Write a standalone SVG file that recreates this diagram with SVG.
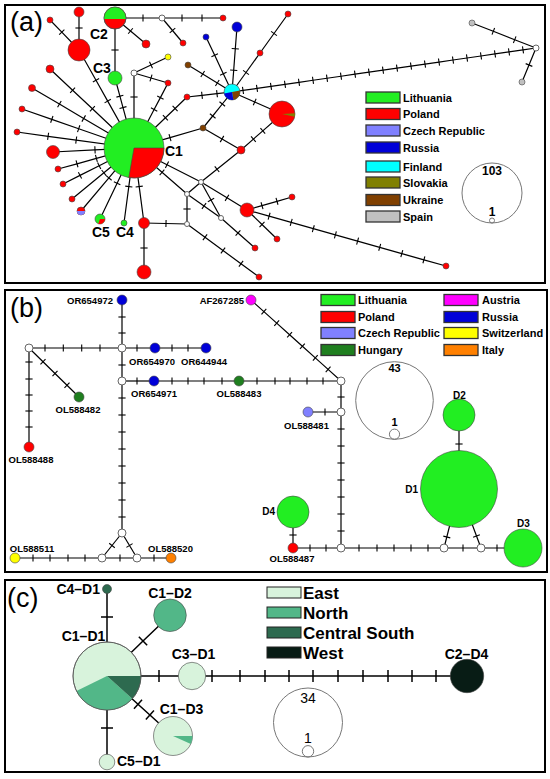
<svg xmlns="http://www.w3.org/2000/svg" width="550" height="779" viewBox="0 0 550 779">
<defs>
<marker id="ta" viewBox="-2 -5 4 10" refX="0" refY="0" markerWidth="4" markerHeight="10" orient="auto" markerUnits="userSpaceOnUse" overflow="visible"><path d="M0,-3.6V3.6" stroke="#000" stroke-width="1.1" fill="none"/></marker>
<marker id="tc" viewBox="-2 -7 4 14" refX="0" refY="0" markerWidth="4" markerHeight="14" orient="auto" markerUnits="userSpaceOnUse" overflow="visible"><path d="M0,-6V6" stroke="#000" stroke-width="1.5" fill="none"/></marker>
</defs>
<style>
text{font-family:"Liberation Sans",Arial,sans-serif;fill:#000}
.frame{fill:none;stroke:#000;stroke-width:2}
.ea,.eb{fill:none;stroke:#000;stroke-width:1.2;marker-mid:url(#ta)}
.ec{fill:none;stroke:#000;stroke-width:1.5;marker-mid:url(#tc)}
.n{stroke:#444;stroke-width:0.6}
.w{fill:#fff;stroke:#666;stroke-width:1}
.lt{fill:#22ee22}.pl{fill:#ff0000}.cz{fill:#8080ff}.ru{fill:#0000d8}.fi{fill:#00ffff}.sk{fill:#808000}.uk{fill:#804000}.es{fill:#c0c0c0}
.hu{fill:#1f7f1f}.at{fill:#ff00ff}.ch{fill:#ffff00}.it{fill:#ff8000}
.ea1{fill:#d8f3dc}.no{fill:#52b788}.cs{fill:#2d6a4f}.we{fill:#081c15}
.box{stroke:#333;stroke-width:1.3}
.lg{font-weight:bold;font-size:11px}
.nl{font-weight:bold;font-size:14px}
.bl{font-weight:bold;font-size:9.5px}
.dl{font-weight:bold;font-size:10px}
.cl{font-weight:bold;font-size:14px}
.cg{font-weight:bold;font-size:17px}
.pn{font-size:27px}
.sc{fill:none;stroke:#777;stroke-width:1}
</style>
<rect width="550" height="779" fill="#fff"/>
<rect class="frame" x="5" y="5" width="540" height="278"/>
<rect class="frame" x="5" y="290" width="542" height="282"/>
<rect class="frame" x="5" y="580" width="540" height="192"/>
<text class="pn" x="10" y="31">(a)</text>
<text class="pn" x="10" y="317">(b)</text>
<text class="pn" x="7" y="607">(c)</text>

<g id="connectors-a">
<path class="ea" d="M79,12 L79,28 L79,50"/>
<path class="ea" d="M50,20 L61.8,32.2 L79,50"/>
<path class="ea" d="M79,50 L96,80.3 L107.7,101.1 L134,148"/>
<path class="ea" d="M115,18 L115,50 L115,78"/>
<path class="ea" d="M115,78 L119.9,96.2 L123,107.6 L134,148"/>
<path class="ea" d="M134,73 L134,97 L134,148"/>
<path class="ea" d="M134,73 L151,65 L168,57"/>
<path class="ea" d="M134,73 L151,78 L168,83"/>
<path class="ea" d="M168,83 L160.4,97.6 L154.1,109.5 L134,148"/>
<path class="ea" d="M115,18 L143,18 L162,18"/>
<path class="ea" d="M162,18 L182,18 L202,18 L223,18"/>
<path class="ea" d="M162,18 L172.5,30.5 L183,43"/>
<path class="ea" d="M115,18 L130.5,31 L146,44"/>
<path class="ea" d="M50,69 L72.6,90.3 L92.4,108.8 L134,148"/>
<path class="ea" d="M32,88 L59.4,104.1 L83.7,118.5 L134,148"/>
<path class="ea" d="M22,109 L51.8,119.4 L78.7,128.7 L134,148"/>
<path class="ea" d="M17,132 L48.1,136.3 L76.2,140.1 L134,148"/>
<path class="ea" d="M53,152 L95,149.9 L134,148"/>
<path class="ea" d="M58,169 L77,163.8 L96.4,158.4 L134,148"/>
<path class="ea" d="M63,184 L80,175.4 L99.2,165.7 L134,148"/>
<path class="ea" d="M72,199 L103.9,172.8 L134,148"/>
<path class="ea" d="M81,211 L108.9,177.9 L134,148"/>
<path class="ea" d="M100,219 L117.1,183.2 L134,148"/>
<path class="ea" d="M124,223 L128.8,186.6 L134,148"/>
<path class="ea" d="M144,223 L139.2,186.6 L134,148"/>
<path class="ea" d="M144,223 L144,248 L144,272"/>
<path class="ea" d="M187,224 L166,223.5 L144,223"/>
<path class="ea" d="M134,148 L167,164.7 L201,182"/>
<path class="ea" d="M134,148 L162,172.3 L187,194"/>
<path class="ea" d="M187,194 L201,182"/>
<path class="ea" d="M187,194 L187,209 L187,224"/>
<path class="ea" d="M201,182 L217,169.2 L241,150"/>
<path class="ea" d="M201,182 L227,197.8 L247,210"/>
<path class="ea" d="M201,182 L211,200 L221,218"/>
<path class="ea" d="M187,194 L204,206 L221,218"/>
<path class="ea" d="M221,218 L238,233 L255,248"/>
<path class="ea" d="M187,224 L205,237.3 L223,250.5 L241,263.8 L259,277"/>
<path class="ea" d="M134,148 L170,137.6 L203,128"/>
<path class="ea" d="M203,128 L212.7,116 L222.3,104 L232,92"/>
<path class="ea" d="M203,128 L222,139 L241,150"/>
<path class="ea" d="M241,150 L253.4,139.1 L262.8,130.9 L282,114"/>
<path class="ea" d="M232,92 L254.7,102 L282,114"/>
<path class="ea" d="M232,92 L217,93.7 L202,95.3 L187,97"/>
<path class="ea" d="M187,97 L175.1,108.5 L165.4,117.8 L134,148"/>
<path class="ea" d="M232,92 L217.3,83 L202.7,74 L188,65"/>
<path class="ea" d="M232,92 L223.3,73.7 L214.7,55.3 L206,37"/>
<path class="ea" d="M232,92 L233.7,70.3 L235.3,48.7 L237,27"/>
<path class="ea" d="M232,92 L246,72.5 L260,53"/>
<path class="ea" d="M260,53 L274,33.5 L288,14"/>
<path class="ea" d="M232,92 L243,90.41 L257,88.38 L271,86.36 L285,84.33 L299,82.3 L313,80.28 L327,78.25 L341,76.23 L355,74.2 L369,72.18 L383,70.15 L397,68.12 L411,66.1 L425,64.07 L439,62.05 L453,60.02 L467,58 L481,55.97 L495,53.94 L509,51.92 L523,49.89 L536,48"/>
<path class="ea" d="M536,48 L514.7,39.7 L493.3,31.3 L472,23"/>
<path class="ea" d="M536,48 L529,65 L522,82"/>
<path class="ea" d="M247,210 L269.1,216.2 L291.2,222.4 L313.3,228.7 L335.4,234.9 L357.6,241.1 L379.7,247.3 L401.8,253.6 L423.9,259.8 L446,266"/>
<path class="ea" d="M247,210 L262,205.7 L277,201.3 L292,197"/>
<path class="ea" d="M247,210 L262,224.5 L277,239"/>
</g>

<g id="nodes-a">
<g id="a-C1"><circle class="n lt" cx="134" cy="148" r="30"/><path class="n pl" d="M134,148 L164,148 A30,30 0 0,1 128.8,177.5 Z"/><text class="nl" x="165" y="156">C1</text></g>
<g id="a-C2"><circle class="n pl" cx="115" cy="18" r="11"/><path class="lt" d="M104.05,19 A11,11 0 1,1 125.95,19 Z"/><circle cx="115" cy="18" r="11" fill="none" stroke="#444" stroke-width="0.6"/><text class="nl" x="90" y="38.5">C2</text></g>
<g id="a-C3"><circle class="n lt" cx="115" cy="78" r="7"/><text class="nl" x="93" y="73">C3</text></g>
<g id="a-C4"><circle class="n lt" cx="124" cy="223" r="3"/><text class="nl" x="116" y="237">C4</text></g>
<g id="a-C5"><circle class="n lt" cx="100" cy="219" r="5"/><path class="pl" d="M100,219 L105,219 A5,5 0 0,1 98.29,223.7 Z"/><text class="nl" x="92" y="237">C5</text></g>
<g id="a-r1"><circle class="n pl" cx="79" cy="12" r="5"/></g>
<g id="a-r2"><circle class="n pl" cx="50" cy="20" r="3"/></g>
<g id="a-r3"><circle class="n pl" cx="79" cy="50" r="11"/></g>
<g id="a-r4"><circle class="n pl" cx="146" cy="44" r="4"/></g>
<g id="a-w1"><circle class="w" cx="162" cy="18" r="3"/></g>
<g id="a-r5"><circle class="n pl" cx="223" cy="18" r="3"/></g>
<g id="a-r6"><circle class="n pl" cx="183" cy="43" r="3"/></g>
<g id="a-w2"><circle class="w" cx="134" cy="73" r="3"/></g>
<g id="a-y1"><circle class="n" fill="#ffff00" cx="168" cy="57" r="3"/></g>
<g id="a-r7"><circle class="n pl" cx="168" cy="83" r="3"/></g>
<g id="a-r8"><circle class="n pl" cx="50" cy="69" r="4"/></g>
<g id="a-r9"><circle class="n pl" cx="32" cy="88" r="3.5"/></g>
<g id="a-r10"><circle class="n pl" cx="22" cy="109" r="3"/></g>
<g id="a-r11"><circle class="n pl" cx="17" cy="132" r="3"/></g>
<g id="a-r12"><circle class="n pl" cx="53" cy="152" r="6.5"/></g>
<g id="a-r13"><circle class="n pl" cx="58" cy="169" r="3"/></g>
<g id="a-r14"><circle class="n pl" cx="63" cy="184" r="3"/></g>
<g id="a-r15"><circle class="n pl" cx="72" cy="199" r="3"/></g>
<g id="a-cz"><circle class="n pl" cx="81" cy="211" r="4"/><path class="cz" d="M77,211 A4,4 0 0,0 85,211 Z"/></g>
<g id="a-r16"><circle class="n pl" cx="144" cy="223" r="5.5"/></g>
<g id="a-r17"><circle class="n pl" cx="144" cy="272" r="7"/></g>
<g id="a-w3"><circle class="w" cx="201" cy="182" r="2.5"/></g>
<g id="a-w4"><circle class="w" cx="187" cy="194" r="2.5"/></g>
<g id="a-w5"><circle class="w" cx="187" cy="224" r="2.5"/></g>
<g id="a-w6"><circle class="w" cx="221" cy="218" r="2.5"/></g>
<g id="a-r18"><circle class="n pl" cx="241" cy="150" r="4"/></g>
<g id="a-b1"><circle class="n uk" cx="203" cy="128" r="3"/></g>
<g id="a-mix"><circle class="n fi" cx="232" cy="92" r="8"/><path class="uk" d="M232,92 L239.88,90.61 A8,8 0 0,1 233.39,99.88 Z"/><path class="ru" d="M232,92 L233.39,99.88 A8,8 0 0,1 224.12,93.39 Z"/></g>
<g id="a-r19"><circle class="n pl" cx="187" cy="97" r="3"/></g>
<g id="a-b2"><circle class="n uk" cx="188" cy="65" r="3"/></g>
<g id="a-u1"><circle class="n ru" cx="206" cy="37" r="3"/></g>
<g id="a-u2"><circle class="n ru" cx="237" cy="27" r="5"/></g>
<g id="a-r20"><circle class="n pl" cx="260" cy="53" r="3"/></g>
<g id="a-r21"><circle class="n pl" cx="288" cy="14" r="3"/></g>
<g id="a-r22"><circle class="n pl" cx="282" cy="114" r="13"/><path class="sk" d="M282,114 L294.98,113.32 A13,13 0 0,1 294.72,116.7 Z"/></g>
<g id="a-w7"><circle class="w" cx="536" cy="48" r="3"/></g>
<g id="a-g1"><circle class="n es" cx="472" cy="23" r="3"/></g>
<g id="a-g2"><circle class="n es" cx="522" cy="82" r="3"/></g>
<g id="a-r23"><circle class="n pl" cx="247" cy="210" r="7"/></g>
<g id="a-r24"><circle class="n pl" cx="292" cy="197" r="3"/></g>
<g id="a-r25"><circle class="n pl" cx="446" cy="266" r="3"/></g>
<g id="a-r26"><circle class="n pl" cx="277" cy="239" r="3"/></g>
<g id="a-r27"><circle class="n pl" cx="255" cy="248" r="3"/></g>
<g id="a-r28"><circle class="n pl" cx="259" cy="277" r="3"/></g>
</g>

<g id="legend-a">
<rect class="box lt" x="366" y="92" width="34" height="11"/><text class="lg" x="403" y="101.5">Lithuania</text>
<rect class="box pl" x="366" y="108.5" width="34" height="11"/><text class="lg" x="403" y="118">Poland</text>
<rect class="box cz" x="366" y="125" width="34" height="11"/><text class="lg" x="403" y="134.5">Czech Republic</text>
<rect class="box ru" x="366" y="142" width="34" height="11"/><text class="lg" x="403" y="151.5">Russia</text>
<rect class="box fi" x="366" y="161" width="34" height="11"/><text class="lg" x="403" y="170.5">Finland</text>
<rect class="box sk" x="366" y="177" width="34" height="11"/><text class="lg" x="403" y="186.5">Slovakia</text>
<rect class="box uk" x="366" y="194.5" width="34" height="11"/><text class="lg" x="403" y="204">Ukraine</text>
<rect class="box es" x="366" y="211" width="34" height="11"/><text class="lg" x="403" y="220.5">Spain</text>
<circle class="sc" cx="492" cy="193" r="30"/>
<circle class="sc" cx="492" cy="220.5" r="2.5"/>
<text x="492" y="175" text-anchor="middle" font-size="12" font-weight="bold">103</text>
<text x="492" y="215.5" text-anchor="middle" font-size="12" font-weight="bold">1</text>
</g>

<g id="connectors-b">
<path class="eb" d="M122,300 L122,317 L122,333 L122,348"/>
<path class="eb" d="M29,348 L45,348 L63.3,348 L81.7,348 L100,348 L122,348"/>
<path class="eb" d="M122,348 L137,348 L155,348"/>
<path class="eb" d="M155,348 L172,348 L188,348 L206,348"/>
<path class="eb" d="M122,348 L122,365 L122,381"/>
<path class="eb" d="M122,381 L137,381 L154,381"/>
<path class="eb" d="M154,381 L172,381 L188,381 L204,381 L222,381 L239,381"/>
<path class="eb" d="M239,381 L257,381 L275,381 L290,381 L307,381 L323,381 L341,381"/>
<path class="eb" d="M29,348 L43,361.7 L55,373.5 L67,385.2 L79,397"/>
<path class="eb" d="M29,348 L29,362 L29,379 L29,395 L29,411 L29,427 L29,447"/>
<path class="eb" d="M122,381 L122,398 L122,415 L122,432 L122,449 L122,466 L122,483 L122,500 L122,517 L122,533"/>
<path class="eb" d="M122,533 L112,545.5 L102,558"/>
<path class="eb" d="M122,533 L129.5,545.5 L137,558"/>
<path class="eb" d="M102,558 L120,558 L137,558"/>
<path class="eb" d="M15,558 L33,558 L50,558 L68,558 L85,558 L102,558"/>
<path class="eb" d="M137,558 L154,558 L171,558"/>
<path class="eb" d="M251,300 L263.9,311.6 L276.7,323.1 L289.6,334.7 L302.4,346.3 L315.3,357.9 L328.1,369.4 L341,381"/>
<path class="eb" d="M341,381 L341,397 L341,412"/>
<path class="eb" d="M308,412 L325,412 L341,412"/>
<path class="eb" d="M341,412 L341,429 L341,446 L341,463 L341,480 L341,497 L341,514 L341,531 L341,548"/>
<path class="eb" d="M293,548 L310,548 L326,548 L341,548"/>
<path class="eb" d="M293,512 L293,535 L293,548"/>
<path class="eb" d="M341,548 L359,548 L377,548 L394,548 L411,548 L428,548 L444,548"/>
<path class="eb" d="M444,548 L463,548 L481,548"/>
<path class="eb" d="M481,548 L497,548 L523,548"/>
<path class="eb" d="M459,489 L446.8,537 L444,548"/>
<path class="eb" d="M459,489 L476.5,536 L481,548"/>
<path class="eb" d="M459,415 L459,444 L459,489"/>
</g>

<g id="nodes-b">
<g id="OR654972"><circle class="n ru" cx="122" cy="300" r="5"/><text class="bl" x="113" y="303.5" text-anchor="end">OR654972</text></g>
<g id="OR654970"><circle class="n ru" cx="155" cy="348" r="5"/><text class="bl" x="152" y="364.5" text-anchor="middle">OR654970</text></g>
<g id="OR644944"><circle class="n ru" cx="206" cy="348" r="5"/><text class="bl" x="204" y="364.5" text-anchor="middle">OR644944</text></g>
<g id="OR654971"><circle class="n ru" cx="154" cy="381" r="5"/><text class="bl" x="154" y="396.5" text-anchor="middle">OR654971</text></g>
<g id="OL588483"><circle class="n hu" cx="239" cy="381" r="5"/><text class="bl" x="239" y="396.5" text-anchor="middle">OL588483</text></g>
<g id="OL588482"><circle class="n hu" cx="79" cy="397" r="5"/><text class="bl" x="78" y="412.5" text-anchor="middle">OL588482</text></g>
<g id="OL588488"><circle class="n pl" cx="29" cy="447" r="5"/><text class="bl" x="31" y="462.5" text-anchor="middle">OL588488</text></g>
<g id="OL588511"><circle class="n ch" cx="15" cy="558" r="5"/><text class="bl" x="32" y="551.5" text-anchor="middle">OL588511</text></g>
<g id="OL588520"><circle class="n it" cx="171" cy="558" r="5"/><text class="bl" x="170.5" y="551.5" text-anchor="middle">OL588520</text></g>
<g id="AF267285"><circle class="n at" cx="251" cy="300" r="5"/><text class="bl" x="244" y="303.5" text-anchor="end">AF267285</text></g>
<g id="OL588481"><circle class="n cz" cx="308" cy="412" r="5"/><text class="bl" x="306.5" y="428.5" text-anchor="middle">OL588481</text></g>
<g id="OL588487"><circle class="n pl" cx="293" cy="548" r="5"/><text class="bl" x="292" y="562" text-anchor="middle">OL588487</text></g>
<g id="b-w0"><circle class="w" cx="29" cy="348" r="4"/></g>
<g id="b-w1"><circle class="w" cx="122" cy="348" r="4"/></g>
<g id="b-w2"><circle class="w" cx="122" cy="381" r="4"/></g>
<g id="b-w3"><circle class="w" cx="341" cy="381" r="4"/></g>
<g id="b-w4"><circle class="w" cx="122" cy="533" r="4"/></g>
<g id="b-w5"><circle class="w" cx="102" cy="558" r="4"/></g>
<g id="b-w6"><circle class="w" cx="137" cy="558" r="4"/></g>
<g id="b-w7"><circle class="w" cx="341" cy="412" r="4"/></g>
<g id="b-w8"><circle class="w" cx="341" cy="548" r="4"/></g>
<g id="b-w9"><circle class="w" cx="444" cy="548" r="4"/></g>
<g id="b-w10"><circle class="w" cx="481" cy="548" r="4"/></g>
<g id="D1"><circle class="n lt" cx="459" cy="489" r="38.5"/><text class="dl" x="418" y="492.5" text-anchor="end">D1</text></g>
<g id="D2"><circle class="n lt" cx="459" cy="415" r="16"/><text class="dl" x="459.5" y="398.5" text-anchor="middle">D2</text></g>
<g id="D3"><circle class="n lt" cx="523" cy="548" r="19"/><text class="dl" x="523.5" y="526.5" text-anchor="middle">D3</text></g>
<g id="D4"><circle class="n lt" cx="293" cy="512" r="16"/><text class="dl" x="275" y="515" text-anchor="end">D4</text></g>
</g>

<g id="legend-b">
<rect class="box lt" x="321" y="294.5" width="34" height="11"/><text class="lg" x="358" y="304">Lithuania</text>
<rect class="box pl" x="321" y="311.5" width="34" height="11"/><text class="lg" x="358" y="321">Poland</text>
<rect class="box cz" x="321" y="327.5" width="34" height="11"/><text class="lg" x="358" y="337">Czech Republic</text>
<rect class="box hu" x="321" y="344.5" width="34" height="11"/><text class="lg" x="358" y="354">Hungary</text>
<rect class="box at" x="444" y="294.5" width="34" height="11"/><text class="lg" x="482" y="304">Austria</text>
<rect class="box ru" x="444" y="311.5" width="34" height="11"/><text class="lg" x="482" y="321">Russia</text>
<rect class="box ch" x="444" y="327.5" width="34" height="11"/><text class="lg" x="482" y="337">Switzerland</text>
<rect class="box it" x="444" y="344.5" width="34" height="11"/><text class="lg" x="482" y="354">Italy</text>
<circle class="sc" cx="394.5" cy="400.5" r="38.8"/>
<circle class="sc" cx="394.5" cy="434.2" r="5.1"/>
<text x="394.5" y="372" text-anchor="middle" font-size="11" font-weight="bold">43</text>
<text x="394.5" y="426" text-anchor="middle" font-size="11" font-weight="bold">1</text>
</g>

<g id="connectors-c">
<path class="ec" d="M107,589 L107,617 L107,676"/>
<path class="ec" d="M107,676 L143,641 L170,615.3"/>
<path class="ec" d="M107,676 L159,676 L192,676"/>
<path class="ec" d="M192,676 L212,676 L240,676 L265,676 L289,676 L313,676 L338,676 L363,676 L388,676 L412,676 L436,676 L467,676"/>
<path class="ec" d="M107,676 L138,704.2 L149.9,715 L173,736"/>
<path class="ec" d="M107,676 L107,728 L107,762"/>
</g>

<g id="nodes-c">
<g id="C4-D1"><circle class="n cs" cx="107" cy="589" r="4.5"/><text class="cl" x="100" y="594" text-anchor="end">C4–D1</text></g>
<g id="C1-D1"><circle class="n ea1" cx="107" cy="676" r="34"/><path class="no" d="M107,676 L132.27,698.75 A34,34 0 0,1 76.44,690.9 Z"/><path class="cs" d="M107,676 L141,676 A34,34 0 0,1 132.27,698.75 Z"/><circle cx="107" cy="676" r="34" fill="none" stroke="#555" stroke-width="0.8"/><text class="cl" x="83.5" y="640.5" text-anchor="middle">C1–D1</text></g>
<g id="C1-D2"><circle class="n no" cx="170" cy="615.3" r="16.3"/><text class="cl" x="170" y="598" text-anchor="middle">C1–D2</text></g>
<g id="C3-D1"><circle class="n ea1" cx="192" cy="676" r="13.7"/><text class="cl" x="193.5" y="659" text-anchor="middle">C3–D1</text></g>
<g id="C1-D3"><circle class="n ea1" cx="173" cy="736" r="19.5"/><path class="no" d="M173,736 L192.5,736 A19.5,19.5 0 0,1 190.81,743.93 Z"/><text class="cl" x="181.5" y="714" text-anchor="middle">C1–D3</text></g>
<g id="C5-D1"><circle class="n ea1" cx="107" cy="762" r="7.8"/><text class="cl" x="117" y="765.5">C5–D1</text></g>
<g id="C2-D4"><circle class="n we" cx="467" cy="676" r="16.7"/><text class="cl" x="466.5" y="659" text-anchor="middle">C2–D4</text></g>
</g>

<g id="legend-c">
<rect class="ea1" x="267" y="587" width="34" height="11" stroke="#222" stroke-width="1"/><text class="cg" x="303" y="598.5">East</text>
<rect class="no" x="267" y="607" width="34" height="11" stroke="#222" stroke-width="1"/><text class="cg" x="303" y="618.5">North</text>
<rect class="cs" x="267" y="627" width="34" height="11" stroke="#222" stroke-width="1"/><text class="cg" x="303" y="638.5">Central South</text>
<rect class="we" x="267" y="647" width="34" height="11" stroke="#222" stroke-width="1"/><text class="cg" x="303" y="658.5">West</text>
<circle class="sc" cx="308" cy="722.5" r="34.5"/>
<circle class="sc" cx="308" cy="751.3" r="5.7"/>
<text x="308" y="702.5" text-anchor="middle" font-size="14">34</text>
<text x="308" y="743" text-anchor="middle" font-size="14">1</text>
</g>
</svg>
